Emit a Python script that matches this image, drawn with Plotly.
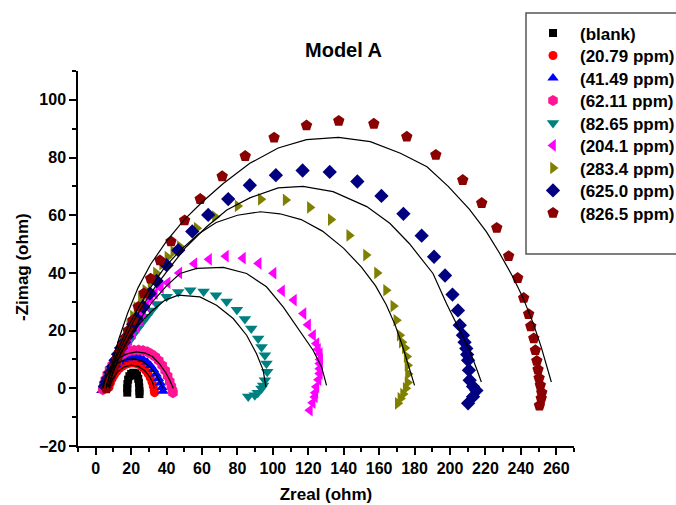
import plotly.graph_objects as go

# ---- Measured impedance spectra (Zreal, -Zimag) in ohm ----
labels = ["(blank)", "(20.79 ppm)", "(41.49 ppm)", "(62.11 ppm)", "(82.65 ppm)",
          "(204.1 ppm)", "(283.4 ppm)", "(625.0 ppm)", "(826.5 ppm)"]

blank_x = [17.8, 17.8, 17.9, 18.3, 19.0, 20.0, 21.2, 22.4, 23.3, 24.0, 24.4, 24.6, 24.7, 24.7]
blank_y = [-1.5, 0.0, 1.5, 3.0, 4.2, 5.0, 5.4, 5.2, 4.5, 3.3, 1.9, 0.3, -1.0, -2.0]

c2079_x = [7.5, 8.3, 9.3, 10.5, 11.9, 13.5, 15.2, 17.1, 19.0, 21.0, 23.0, 24.9, 26.6, 28.2,
           29.6, 30.8, 31.8, 32.5, 33.0, 33.2]
c2079_y = [0.3, 1.8, 3.3, 4.6, 5.8, 6.9, 7.7, 8.3, 8.7, 8.8, 8.6, 8.1, 7.3, 6.2,
           5.0, 3.6, 2.1, 0.6, -0.8, -1.5]

c4149_x = [3.5, 4.3, 5.3, 6.5, 8.0, 9.6, 11.4, 13.4, 15.5, 17.8, 20.1, 22.4, 24.7, 26.9,
           29.0, 30.9, 32.6, 34.1, 35.4, 36.5, 37.4, 38.0]
c4149_y = [-0.8, 0.8, 2.5, 4.1, 5.6, 7.0, 8.2, 9.2, 10.0, 10.5, 10.8, 10.9, 10.6, 10.0,
           9.1, 7.9, 6.5, 5.0, 3.4, 1.8, 0.3, -1.0]

c6211_x = [4.0, 4.6, 5.4, 6.5, 7.8, 9.3, 11.0, 12.8, 14.8, 17.0, 19.3, 21.7, 24.2, 26.7,
           29.1, 31.4, 33.6, 35.6, 37.5, 39.2, 40.6, 41.8, 42.7, 43.3, 43.6]
c6211_y = [-0.5, 1.3, 3.0, 4.8, 6.5, 8.0, 9.4, 10.6, 11.6, 12.4, 12.9, 13.2, 13.3, 13.1,
           12.7, 11.9, 10.9, 9.6, 8.0, 6.2, 4.3, 2.4, 0.6, -0.8, -1.5]

c8265_x = [6.4, 7.2, 8.1, 9.4, 10.9, 12.8, 14.8, 17.0, 19.3, 21.5, 23.9, 26.3, 28.8, 31.5,
           34.4, 40.0, 46.6, 53.4, 60.9, 67.9, 73.9, 79.7, 84.2, 87.8, 91.7, 93.6, 95.5,
           96.4, 96.8, 95.5, 94.5, 93.6, 91.5, 89.8, 86.1]
c8265_y = [1.0, 2.6, 4.2, 6.2, 8.3, 10.4, 12.5, 14.6, 16.7, 18.8, 20.8, 22.8, 24.8, 27.0,
           29.2, 31.7, 33.4, 34.0, 33.6, 32.3, 30.1, 27.2, 24.0, 20.7, 17.3, 14.3, 11.5,
           8.6, 5.7, 2.8, 1.0, -0.1, -1.5, -2.4, -2.8]

c2041_x = [6.5, 7.5, 8.7, 9.8, 11.4, 13.1, 15.0, 17.1, 19.0, 21.0, 23.0, 25.0, 26.8, 28.8,
           31.0, 33.4, 36.8, 40.6, 47.2, 55.7, 64.0, 73.5, 83.1, 92.0, 100.4, 105.2, 111.9,
           117.3, 119.9, 122.7, 124.6, 125.5, 126.5, 126.7, 126.5, 126.5, 126.5, 125.8,
           124.6, 124.0, 123.7, 122.5, 120.9]
c2041_y = [0.5, 2.1, 4.0, 6.3, 8.3, 10.4, 12.5, 14.6, 16.8, 19.1, 21.3, 23.6, 26.2, 28.8,
           31.0, 32.9, 34.8, 36.6, 40.0, 43.2, 44.7, 45.8, 45.1, 43.3, 39.9, 33.8, 30.6,
           25.9, 22.0, 18.4, 15.5, 13.5, 12.0, 10.0, 8.6, 6.8, 5.1, 3.0,
           0.5, -1.5, -3.0, -5.0, -7.6]

c2834_x = [6.0, 7.0, 8.0, 9.5, 11.0, 13.0, 15.0, 17.0, 19.0, 21.0, 23.0, 25.5, 28.0, 31.0,
           34.0, 37.5, 40.5, 43.8, 47.5, 57.0, 67.3, 80.1, 93.2, 107.2, 120.9, 132.7, 143.1,
           152.6, 158.8, 163.9, 168.0, 169.7, 171.6, 172.8, 174.5, 175.5, 176.0, 176.3,
           176.0, 175.0, 173.5, 172.0, 170.5]
c2834_y = [1.0, 2.5, 5.0, 7.5, 10.0, 13.0, 16.0, 19.0, 22.0, 25.0, 28.0, 31.0, 34.0, 37.0,
           40.0, 43.0, 45.5, 47.4, 49.1, 55.5, 59.5, 63.2, 65.5, 65.3, 62.7, 58.5, 53.0,
           46.2, 40.0, 34.0, 28.5, 23.6, 18.4, 16.0, 14.0, 11.0, 8.0, 5.0,
           2.0, 0.0, -2.0, -3.5, -5.2]

c6250_x = [5.2, 6.0, 7.0, 8.3, 9.8, 11.2, 12.6, 14.3, 16.0, 17.7, 19.3, 21.2, 23.1, 26.8,
           30.6, 34.4, 40.0, 46.6, 54.5, 63.5, 74.8, 87.0, 101.7, 116.8, 132.1, 147.7, 161.3,
           173.7, 184.0, 191.0, 197.2, 201.4, 204.5, 205.5, 207.3, 208.2, 209.2, 209.7,
           210.2, 210.7, 211.1, 213.0, 214.9, 213.0, 210.2]
c6250_y = [0.7, 2.2, 3.5, 5.5, 7.6, 9.7, 11.8, 14.0, 16.0, 18.0, 20.1, 22.2, 24.2, 28.2,
           32.9, 37.2, 42.7, 47.9, 54.4, 60.1, 65.6, 70.4, 73.9, 75.5, 75.0, 71.7, 66.7,
           60.5, 52.9, 45.6, 39.1, 32.5, 27.0, 21.9, 18.4, 16.0, 13.8, 11.7,
           9.7, 6.3, 2.8, 0.6, -0.8, -2.9, -5.2]

c8265b_x = [6.0, 7.5, 9.0, 10.5, 12.0, 13.5, 15.3, 17.0, 18.5, 21.0, 24.0, 27.2, 31.0, 36.3,
            42.5, 50.2, 59.0, 71.4, 84.4, 100.7, 119.0, 137.2, 157.0, 175.6, 192.0, 207.2,
            217.9, 226.4, 233.1, 238.2, 241.6, 244.4, 245.6, 247.3, 248.2, 249.0, 249.7,
            250.3, 251.0, 251.8, 251.5, 250.5]
c8265b_y = [0.0, 2.5, 5.0, 7.5, 10.0, 12.5, 15.0, 17.5, 20.0, 23.6, 28.2, 32.9, 38.0, 44.3,
            50.9, 58.2, 65.6, 73.5, 80.5, 86.9, 91.1, 92.7, 91.7, 87.2, 80.9, 72.2,
            64.2, 55.6, 45.8, 38.2, 31.3, 25.7, 21.5, 17.3, 13.2, 9.5, 6.5,
            3.5, 1.0, -1.5, -3.5, -6.0]

# ---- Equivalent-circuit fit curves ----
fit_blank_x = [18.0, 18.7, 20.2, 21.7, 23.2, 24.2, 24.5]
fit_blank_y = [0.0, 2.5, 4.0, 4.4, 3.5, 1.5, 0.0]
fit_2079_x = [7.5, 9.5, 12.5, 16.0, 20.0, 24.0, 27.5, 30.5, 32.3, 33.0]
fit_2079_y = [0.0, 3.2, 5.8, 7.4, 8.0, 7.6, 6.2, 4.0, 1.8, 0.0]
fit_4149_x = [3.5, 5.5, 8.5, 12.5, 17.0, 22.0, 26.5, 30.5, 34.0, 36.5, 37.8]
fit_4149_y = [0.0, 3.5, 6.5, 8.8, 10.0, 10.2, 9.4, 7.5, 4.8, 2.0, 0.0]
fit_6211_x = [4.0, 6.0, 9.0, 13.0, 18.0, 23.0, 28.0, 32.0, 36.0, 39.5, 42.0, 43.8]
fit_6211_y = [0.0, 4.5, 8.0, 10.5, 12.0, 12.6, 12.2, 11.0, 8.5, 5.5, 2.5, 0.0]
fit_8265_x = [7.0, 10.0, 14.0, 19.0, 25.0, 32.0, 39.0, 46.6, 58.8, 68.2, 77.6, 85.2, 90.8,
              94.5, 96.1]
fit_8265_y = [0.5, 6.0, 12.0, 17.5, 22.5, 27.0, 30.5, 32.3, 31.7, 28.8, 24.2, 18.4, 12.0,
              6.3, 0.5]
fit_2041_x = [7.0, 10.0, 14.0, 19.0, 25.0, 32.0, 40.0, 47.6, 57.0, 72.0, 85.2, 96.4, 105.8,
              115.2, 122.7, 127.5, 130.3]
fit_2041_y = [0.5, 6.0, 12.0, 18.0, 24.0, 30.0, 35.5, 39.8, 41.6, 41.9, 39.8, 35.2, 28.2,
              20.1, 13.2, 7.4, 1.0]
fit_2834_x = [6.0, 9.0, 13.0, 18.0, 24.0, 31.0, 39.0, 48.0, 58.0, 68.0, 80.0, 93.0, 104.0,
              116.0, 128.0, 140.0, 150.0, 158.0, 164.0, 169.0, 173.0, 176.0, 178.5, 180.0]
fit_2834_y = [0.5, 7.0, 14.0, 21.0, 28.0, 35.0, 42.0, 48.0, 53.5, 57.5, 60.0, 61.2, 60.5,
              58.5, 54.5, 48.5, 42.0, 35.5, 29.0, 22.0, 15.0, 9.0, 4.0, 1.0]
fit_6250_x = [5.8, 8.0, 12.0, 16.5, 22.0, 28.0, 33.4, 42.0, 51.0, 62.6, 74.0, 87.0, 103.0,
              117.0, 134.0, 153.0, 166.0, 177.0, 190.4, 198.0, 205.5, 211.0, 215.0, 217.7]
fit_6250_y = [0.7, 4.5, 11.0, 17.0, 24.0, 30.0, 35.0, 42.0, 49.0, 56.0, 61.8, 66.0, 69.5,
              70.0, 68.2, 63.0, 57.2, 50.2, 39.8, 29.4, 20.1, 13.2, 6.8, 2.2]
fit_8265b_x = [6.0, 9.0, 13.0, 18.0, 24.0, 31.0, 40.0, 50.0, 60.0, 72.0, 87.0, 103.0, 119.0,
               137.0, 155.0, 172.0, 187.0, 199.0, 211.0, 220.5, 228.0, 235.5, 241.0, 247.0,
               251.5, 255.3, 257.2]
fit_8265b_y = [0.0, 8.0, 17.0, 26.0, 35.0, 43.0, 51.0, 58.5, 64.5, 71.0, 78.0, 83.3, 86.2,
               87.0, 85.5, 81.5, 76.8, 70.0, 62.0, 54.3, 46.8, 38.6, 31.7, 22.5,
               14.3, 6.2, 2.2]

series_x = [blank_x, c2079_x, c4149_x, c6211_x, c8265_x, c2041_x, c2834_x, c6250_x, c8265b_x]
series_y = [blank_y, c2079_y, c4149_y, c6211_y, c8265_y, c2041_y, c2834_y, c6250_y, c8265b_y]
fits_x = [fit_blank_x, fit_2079_x, fit_4149_x, fit_6211_x, fit_8265_x, fit_2041_x,
          fit_2834_x, fit_6250_x, fit_8265b_x]
fits_y = [fit_blank_y, fit_2079_y, fit_4149_y, fit_6211_y, fit_8265_y, fit_2041_y,
          fit_2834_y, fit_6250_y, fit_8265b_y]

# ---- Styling ----
colors = ["#000000", "#FF0000", "#0000FF", "#FF1493", "#008080",
          "#FF00FF", "#808000", "#000080", "#8B0000"]
symbols = ["square", "circle", "triangle-up", "hexagon", "triangle-down",
           "triangle-left", "triangle-right", "diamond", "pentagon"]
sizes = [8, 9, 10, 11, 11, 11, 11, 11, 12]

FONT = "Arial, Liberation Sans, sans-serif"

# plot-area geometry (pixels) used to place the legend rows and titles
W, H = 676, 505
ML, MR, MT, MB = 78, 102, 71, 59
PW, PH = W - ML - MR, H - MT - MB
ROW0, ROW_STEP = 35.0, 22.5      # centre of first legend row, row spacing
LEG_LEFT = 526                   # left edge of legend frame


def px_to_paper_x(px):
    return (px - ML) / PW


def px_to_paper_y(py):
    return (H - MB - py) / PH


fig = go.Figure()
legend_layout = {}
for i, lab in enumerate(labels):
    key = "legend" if i == 0 else f"legend{i + 1}"
    fig.add_trace(go.Scatter(
        x=series_x[i], y=series_y[i], mode="markers", name=lab,
        legend=key,
        marker=dict(symbol=symbols[i], color=colors[i], size=sizes[i],
                    line=dict(width=0)),
    ))
    row_centre = ROW0 + i * ROW_STEP
    legend_layout[key] = dict(
        x=px_to_paper_x(LEG_LEFT), xanchor="left",
        y=px_to_paper_y(row_centre - 19.6), yanchor="top",
        bgcolor="rgba(0,0,0,0)", borderwidth=0, itemwidth=44,
        font=dict(family=FONT, size=17, color="black", weight="bold"),
    )

for i in range(len(labels)):
    fig.add_trace(go.Scatter(
        x=fits_x[i], y=fits_y[i], mode="lines", showlegend=False,
        line=dict(color="black", width=1.2), hoverinfo="skip",
    ))

axis_common = dict(
    showline=True, linecolor="black", linewidth=1.5,
    ticks="outside", ticklen=7, tickwidth=1.5, tickcolor="black",
    showgrid=False, zeroline=False, mirror=False,
    tickfont=dict(family=FONT, size=16, color="black", weight="bold"),
    minor=dict(ticks="outside", ticklen=4, tickwidth=1.5, tickcolor="black", dtick=10),
)

title_font = dict(family=FONT, size=17, color="black", weight="bold")

fig.update_layout(
    width=W, height=H,
    margin=dict(l=ML, r=MR, t=MT, b=MB, autoexpand=False),
    paper_bgcolor="white", plot_bgcolor="white",
    xaxis=dict(range=[-10, 270], dtick=20, tick0=0,
               title=dict(text="Zreal (ohm)", standoff=12, font=title_font),
               **axis_common),
    yaxis=dict(range=[-20, 110], dtick=20, tick0=0, **axis_common),
    showlegend=True,
    annotations=[
        dict(text="Model A", x=px_to_paper_x(343), y=px_to_paper_y(50),
             xref="paper", yref="paper", xanchor="center", yanchor="middle",
             showarrow=False,
             font=dict(family=FONT, size=20, color="black", weight="bold")),
        dict(text="-Zimag (ohm)", x=px_to_paper_x(22), y=px_to_paper_y(267),
             xref="paper", yref="paper", xanchor="center", yanchor="middle",
             textangle=-90, showarrow=False, font=title_font),
    ],
    shapes=[dict(type="rect", xref="paper", yref="paper",
                 x0=px_to_paper_x(LEG_LEFT), x1=px_to_paper_x(W + 10),
                 y0=px_to_paper_y(254), y1=px_to_paper_y(13),
                 line=dict(color="#555555", width=1.5))],
    **legend_layout,
)

fig.write_html("out.html")
